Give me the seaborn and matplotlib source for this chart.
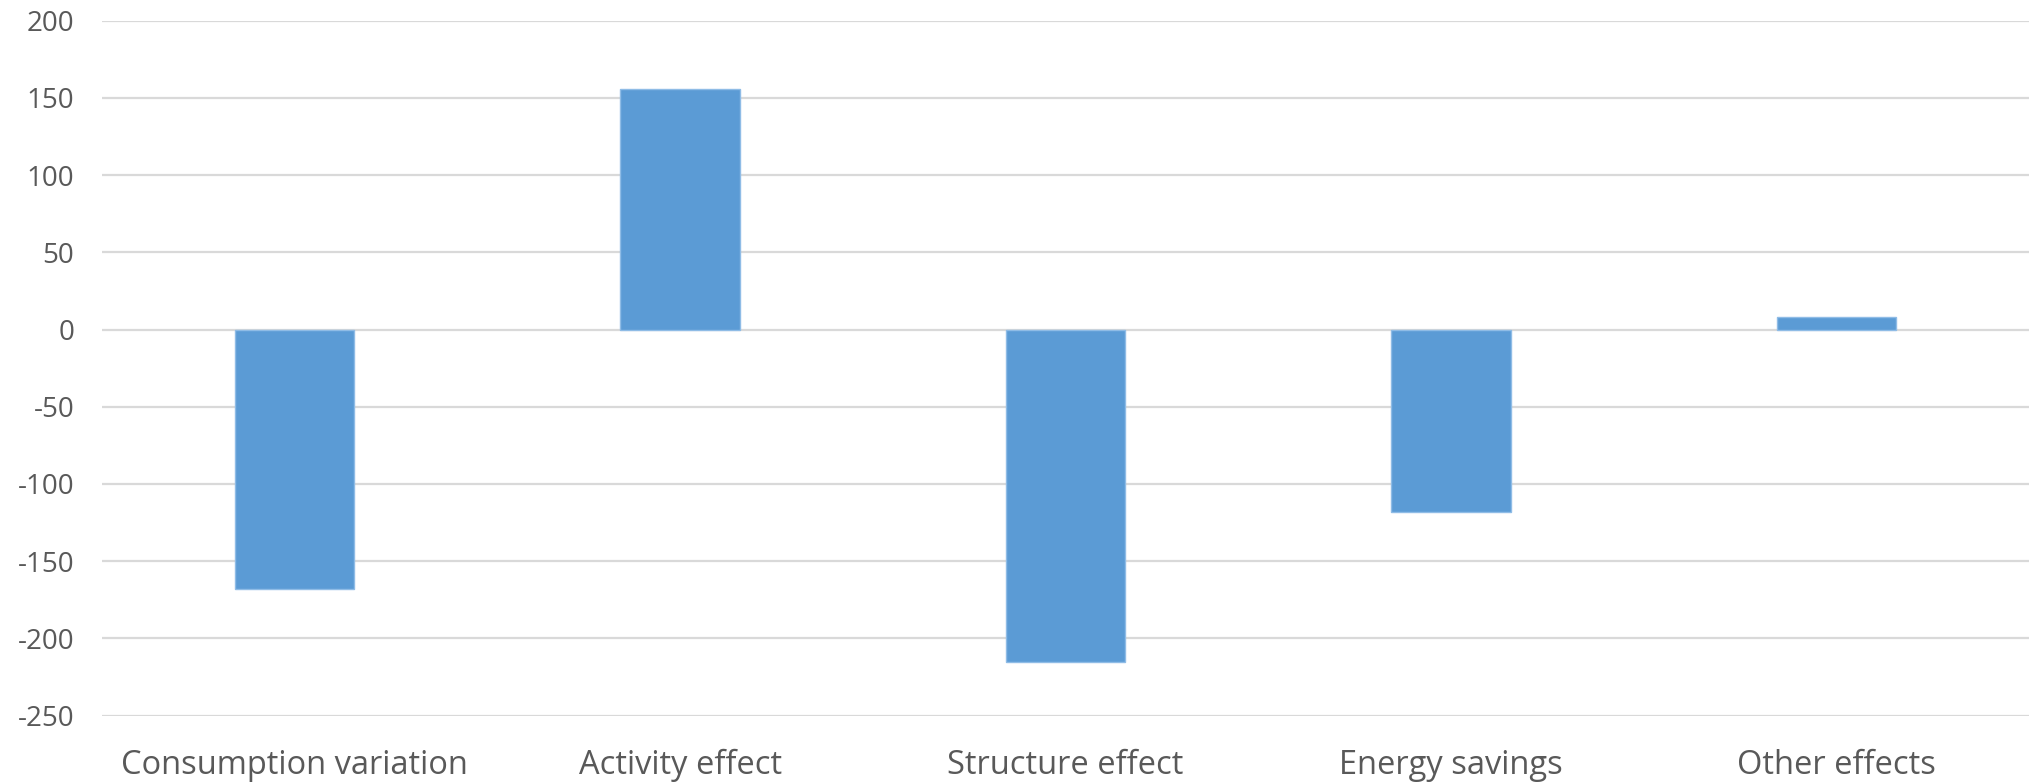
import numpy as np
import pandas as pd
import seaborn as sns
import matplotlib.pyplot as plt

# Values
categories = ['Consumption variation', 'Activity effect', 'Structure effect',
              'Energy savings', 'Other effects']
values = [-168, 156, -215, -118, 8]
yticks = [-250, -200, -150, -100, -50, 0, 50, 100, 150, 200]

df = pd.DataFrame({'category': categories, 'value': values})

sns.set_style('white')
plt.rcParams['font.family'] = ['Open Sans', 'DejaVu Sans']
plt.rcParams['axes.unicode_minus'] = False

fig = plt.figure(figsize=(20.29, 7.82), dpi=100)
ax = fig.add_axes([102 / 2029, 66.4 / 782, 1 - 102 / 2029, (715.6 - 20.7) / 782])

sns.barplot(data=df, x='category', y='value', color='#5b9bd5', saturation=1,
            width=0.31, edgecolor='#8fbce6', linewidth=1, ax=ax, zorder=3)

ax.set_ylim(-250, 200)
ax.set_xlim(-0.5, 4.5)
ax.set_yticks(yticks)
ax.yaxis.grid(True, color='#d9d9d9', linewidth=1.6, zorder=0)
ax.set_axisbelow(True)
for s in ax.spines.values():
    s.set_visible(False)
ax.set_xlabel('')
ax.set_ylabel('')
ax.tick_params(axis='both', length=0, colors='#595959')
ax.tick_params(axis='x', pad=24, labelsize=23.5)
ax.tick_params(axis='y', pad=20, labelsize=20)

fig.savefig('out.png', dpi=100)
